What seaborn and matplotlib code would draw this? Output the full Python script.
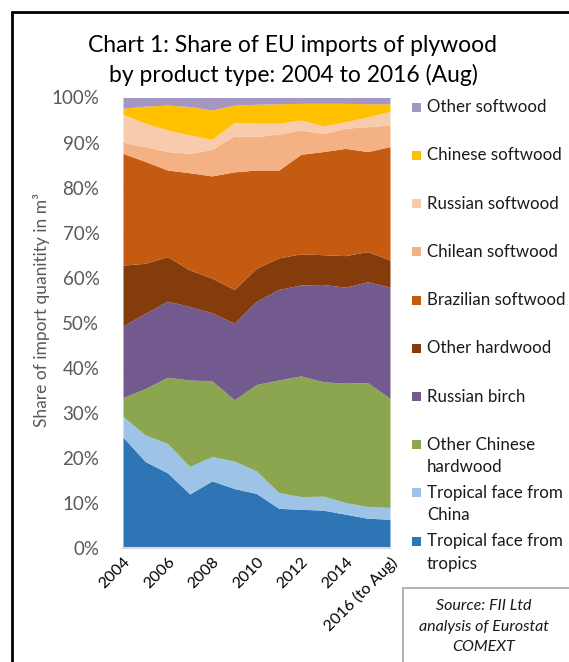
import matplotlib
matplotlib.use("Agg")
import matplotlib.pyplot as plt
import seaborn as sns
import numpy as np
from matplotlib.lines import Line2D
from matplotlib.patches import Rectangle

years = list(range(2004, 2017))
tick_years = [2004, 2006, 2008, 2010, 2012, 2014, 2016]
tick_labels = ["2004", "2006", "2008", "2010", "2012", "2014", "2016 (to Aug)"]

trop_tropics = [24.6, 19.2, 16.7, 12.0, 14.9, 13.2, 12.1, 8.8, 8.6, 8.4, 7.5, 6.6, 6.4]
trop_china = [4.6, 5.9, 6.5, 6.1, 5.4, 6.1, 5.0, 3.5, 2.8, 3.1, 2.6, 2.6, 2.6]
other_chinese_hw = [4.2, 10.3, 14.7, 19.2, 16.8, 13.6, 19.2, 25.0, 26.8, 25.4, 26.5, 27.5, 24.2]
russian_birch = [15.9, 16.7, 16.9, 16.3, 15.1, 17.0, 18.5, 20.1, 20.2, 21.6, 21.3, 22.4, 24.7]
other_hw = [13.5, 11.1, 9.9, 8.1, 7.7, 7.5, 7.3, 7.0, 6.9, 6.6, 7.0, 6.7, 6.0]
brazilian_sw = [24.8, 22.6, 19.2, 21.6, 22.7, 26.1, 21.8, 19.5, 22.1, 22.9, 23.8, 22.2, 25.2]
chilean_sw = [2.4, 3.3, 4.1, 4.3, 5.9, 8.0, 7.4, 8.0, 5.4, 4.0, 4.5, 5.5, 4.8]
russian_sw = [6.3, 5.2, 4.8, 4.1, 2.2, 3.0, 3.0, 2.4, 2.2, 1.7, 1.4, 2.2, 3.0]
chinese_sw = [1.3, 3.8, 5.5, 6.3, 6.5, 3.8, 4.2, 4.3, 3.7, 5.0, 4.1, 2.9, 1.7]
other_sw = [2.4, 1.9, 1.7, 2.0, 2.8, 1.7, 1.5, 1.4, 1.3, 1.3, 1.3, 1.4, 1.4]

series = [trop_tropics, trop_china, other_chinese_hw, russian_birch, other_hw,
          brazilian_sw, chilean_sw, russian_sw, chinese_sw, other_sw]
names = ["Tropical face from\ntropics", "Tropical face from\nChina", "Other Chinese\nhardwood",
         "Russian birch", "Other hardwood", "Brazilian softwood", "Chilean softwood",
         "Russian softwood", "Chinese softwood", "Other softwood"]
colors = ["#2E75B6", "#9DC3E6", "#8BA64F", "#725A8E", "#843C0C", "#C55A11",
          "#F4B183", "#F8CBAD", "#FFC000", "#A597C2"]

sns.set_theme(style="white")
plt.rcParams["font.family"] = ["Lato", "DejaVu Sans"]

W, H = 569, 662
fig = plt.figure(figsize=(W / 100, H / 100), dpi=100)
ax = fig.add_axes([123 / W, 1 - 548 / H, (390 - 123) / W, (548 - 97.5) / H])

data = np.array(series)
totals = data.sum(axis=0)
shares = data / totals * 100
ax.stackplot(years, shares, colors=colors, linewidth=0, zorder=2)

ax.set_xlim(2004, 2016)
ax.set_ylim(0, 100)
ax.set_yticks(range(0, 101, 10))
ax.set_yticklabels([f"{v}%" for v in range(0, 101, 10)], fontsize=13.5, color="#595959")
ax.set_xticks(tick_years)
ax.set_xticklabels(tick_labels, fontsize=11.5, color="#000000", rotation=45,
                   ha="right", rotation_mode="anchor")
ax.tick_params(axis="both", length=0, pad=5)
ax.tick_params(axis="y", pad=17)
for s in ["top", "right", "left"]:
    ax.spines[s].set_visible(False)
ax.spines["bottom"].set_color("#D9D9D9")
ax.spines["bottom"].set_linewidth(1.5)
ax.spines["bottom"].set_zorder(3)
ax.grid(axis="y", color="#D9D9D9", linewidth=0.8, zorder=0)
ax.set_axisbelow(True)

fig.text(42 / W, 1 - 310 / H, "Share of import quanitity in m³", rotation=90,
         ha="center", va="center", fontsize=12.5, color="#595959")

fig.text(293 / W, 1 - 45 / H, "Chart 1: Share of EU imports of plywood",
         ha="center", va="center", fontsize=16.5, color="#000000")
fig.text(293 / W, 1 - 75 / H, "by product type: 2004 to 2016 (Aug)",
         ha="center", va="center", fontsize=16.5, color="#000000")

# legend (top series first)
y0 = 107.3
for i, (name, col) in enumerate(zip(names[::-1], colors[::-1])):
    yc = y0 + i * 48.2
    fig.patches.append(Rectangle((412 / W, 1 - (yc + 4.5) / H), 9 / W, 9 / H,
                                 transform=fig.transFigure, facecolor=col,
                                 edgecolor="none"))
    for j, line in enumerate(name.split("\n")):
        fig.text(427 / W, 1 - (yc + j * 22.5) / H, line, ha="left", va="center",
                 fontsize=12.2, color="#1a1a1a")

# source box
fig.patches.append(Rectangle((403 / W, -0.01), 0.5, (662 - 588) / H + 0.01,
                             transform=fig.transFigure, facecolor="white",
                             edgecolor="#A6A6A6", linewidth=1.2))
for j, line in enumerate(["Source: FII Ltd", "analysis of Eurostat", "COMEXT"]):
    fig.text(484 / W, 1 - (606 + j * 20.5) / H, line, ha="center", va="center",
             fontsize=11.5, style="italic", color="#1a1a1a")

# outer border
fig.lines.append(Line2D([12 / W, 12 / W], [0, 1 - 12 / H], transform=fig.transFigure,
                        color="black", linewidth=2))
fig.lines.append(Line2D([12 / W, 1], [1 - 12 / H, 1 - 12 / H], transform=fig.transFigure,
                        color="black", linewidth=2))

fig.savefig("out.png", dpi=100, facecolor="white")
